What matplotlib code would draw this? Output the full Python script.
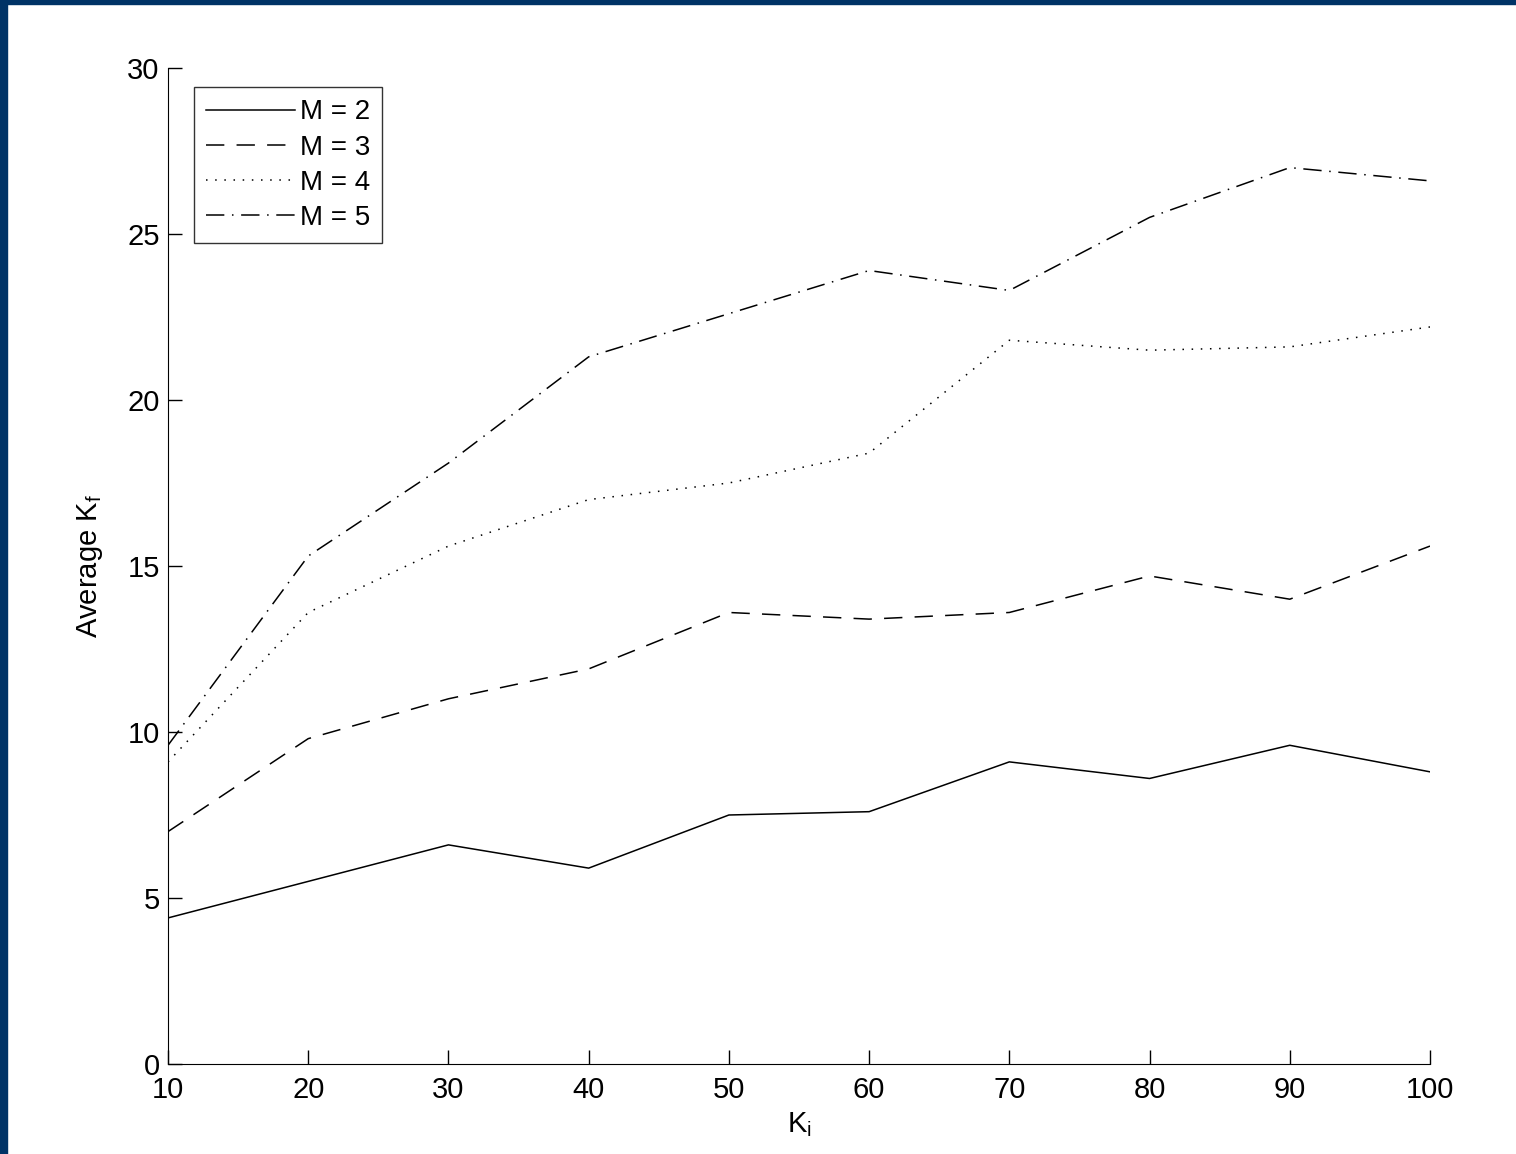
import matplotlib
matplotlib.use('Agg')
import matplotlib.pyplot as plt
from matplotlib.patches import Rectangle

plt.rcParams['font.family'] = ['Liberation Sans', 'DejaVu Sans']
plt.rcParams['mathtext.fontset'] = 'custom'
plt.rcParams['mathtext.rm'] = 'Liberation Sans'

# data
k_i = [10, 20, 30, 40, 50, 60, 70, 80, 90, 100]
m2 = [4.4, 5.5, 6.6, 5.9, 7.5, 7.6, 9.1, 8.6, 9.6, 8.8]
m3 = [7.0, 9.8, 11.0, 11.9, 13.6, 13.4, 13.6, 14.7, 14.0, 15.6]
m4 = [9.1, 13.6, 15.6, 17.0, 17.5, 18.4, 21.8, 21.5, 21.6, 22.2]
m5 = [9.6, 15.3, 18.1, 21.3, 22.6, 23.9, 23.3, 25.5, 27.0, 26.6]
labels = ['M = 2', 'M = 3', 'M = 4', 'M = 5']

fig = plt.figure(figsize=(15.16, 11.54), dpi=100)
ax = fig.add_axes([168/1516, 90/1154, (1430-168)/1516, (1064-68)/1154])

lw = 1.1
ax.plot(k_i, m2, color='black', lw=lw, linestyle='-', label=labels[0])
ax.plot(k_i, m3, color='black', lw=lw, linestyle=(0, (12, 8)), label=labels[1])
ax.plot(k_i, m4, color='black', lw=lw, linestyle=(0, (1, 5)), label=labels[2])
ax.plot(k_i, m5, color='black', lw=lw, linestyle=(0, (12, 5, 1, 5)), label=labels[3])

ax.set_xlim(10, 100)
ax.set_ylim(0, 30)
ax.set_xticks(k_i)
ax.set_yticks(range(0, 31, 5))
ax.spines['top'].set_visible(False)
ax.spines['right'].set_visible(False)
ax.tick_params(direction='in', length=10, width=1, labelsize=21)
ax.tick_params(axis='x', pad=9)
ax.tick_params(axis='y', pad=6)
ax.set_xlabel('K$_\\mathregular{i}$', fontsize=21, labelpad=4)
ax.set_ylabel('Average K$_\\mathregular{f}$', fontsize=21, labelpad=16)

leg = ax.legend(loc='upper left', bbox_to_anchor=(0.0206, 0.981), fontsize=20,
                frameon=True, fancybox=False, edgecolor='black',
                handlelength=3.2, handletextpad=0.15, labelspacing=0.33,
                borderpad=0.45, borderaxespad=0)
leg.get_frame().set_linewidth(1.0)

# navy frame along top and left edges
fig.patches.append(Rectangle((0, 1 - 4/1154), 1, 4/1154, transform=fig.transFigure,
                             color='#003366', zorder=10))
fig.patches.append(Rectangle((0, 0), 7/1516, 1, transform=fig.transFigure,
                             color='#003366', zorder=10))

fig.savefig('out.png', dpi=100)
